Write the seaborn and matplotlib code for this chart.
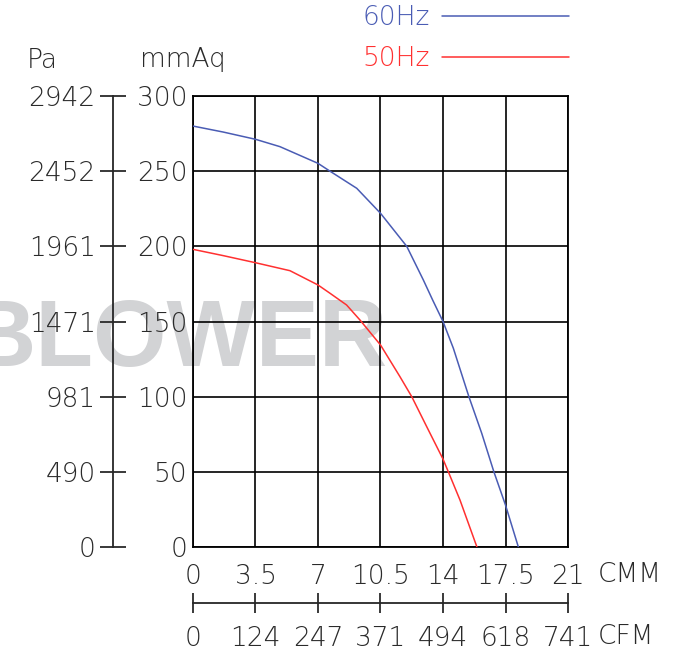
import numpy as np
import pandas as pd
import matplotlib
matplotlib.use("Agg")
import matplotlib.pyplot as plt
import seaborn as sns

sns.set_style("white")
plt.rcParams['font.family'] = ['DejaVu Sans']
plt.rcParams['font.weight'] = 'light'

# values (CMM, mmAq)
cmm_60 = [0, 1.7, 3.5, 4.87, 7, 7.67, 9.17, 10.5, 11.97, 12.9, 13.42, 14, 14.58, 15.45, 16.17, 16.85, 17.5, 18.22]
mmaq_60 = [280, 276, 271.2, 266.3, 255.2, 250, 238.6, 222, 200, 177.6, 164.3, 150, 132.2, 100, 75.6, 50, 27.9, 0]
cmm_50 = [0, 1.7, 3.5, 5.43, 7, 7.67, 8.6, 9.35, 10.5, 11.59, 12.25, 13.09, 14, 14.3, 14.95, 15.9]
mmaq_50 = [198, 193.8, 189.1, 183.8, 174.3, 168.8, 161, 151, 134.4, 113.3, 100, 80, 58.5, 50, 31.3, 0]

cmm_ticks = [0, 3.5, 7, 10.5, 14, 17.5, 21]
cmm_labels = ['0', '3.5', '7', '10.5', '14', '17.5', '21']
cfm_labels = ['0', '124', '247', '371', '494', '618', '741']
mmaq_ticks = [0, 50, 100, 150, 200, 250, 300]
pa_labels = ['0', '490', '981', '1471', '1961', '2452', '2942']

df = pd.concat([
    pd.DataFrame({'CMM': cmm_60, 'mmAq': mmaq_60, 'freq': '60Hz'}),
    pd.DataFrame({'CMM': cmm_50, 'mmAq': mmaq_50, 'freq': '50Hz'}),
])
colors = {'60Hz': '#4a5cb4', '50Hz': '#ff3030'}
fs = 19
tc = '#2a2a2a'

fig = plt.figure(figsize=(6.8, 6.53), dpi=100)
ax = fig.add_axes([0.2838, 0.1623, 0.5515, 0.6907])
ax.set_facecolor('none')

# watermark behind everything
fig.text(388 / 680, 1 - 366 / 653, 'BLOWER', fontsize=68, fontweight='bold', color='#d2d3d5',
         family='Liberation Sans', ha='right', va='baseline', zorder=-5)

sns.lineplot(data=df, x='CMM', y='mmAq', hue='freq', hue_order=['60Hz', '50Hz'],
             palette=colors, linewidth=1.1, ax=ax, zorder=3)

ax.set_xlim(0, 21)
ax.set_ylim(0, 300)
ax.set_xticks(cmm_ticks)
ax.set_xticklabels(cmm_labels)
ax.set_yticks(mmaq_ticks)
ax.set_yticklabels([str(t) for t in mmaq_ticks])
ax.grid(True, color='black', linewidth=1.2)
for s in ax.spines.values():
    s.set_color('black')
    s.set_linewidth(1.3)
ax.tick_params(axis='both', length=0, labelsize=fs, colors=tc)
ax.tick_params(axis='y', pad=4)
ax.tick_params(axis='x', pad=12)
ax.set_xlabel('')
ax.set_ylabel('')

# Pa axis
pa = ax.secondary_yaxis(-0.2133)
pa.set_yticks(mmaq_ticks)
pa.set_yticklabels(pa_labels)
pa.spines['left'].set_linewidth(1.3)
pa.tick_params(direction='inout', length=19, width=1.3, pad=3, labelsize=fs, colors=tc)

# CFM axis
cfm = ax.secondary_xaxis(-0.1242)
cfm.set_xticks(cmm_ticks)
cfm.set_xticklabels(cfm_labels)
cfm.spines['bottom'].set_linewidth(1.3)
cfm.tick_params(direction='inout', length=15, width=1.3, pad=9, labelsize=fs, colors=tc)

fig.text(27 / 680, 1 - 60 / 653, 'Pa', fontsize=fs, ha='left', va='center', color=tc)
fig.text(140 / 680, 1 - 60 / 653, 'mmAq', fontsize=fs, ha='left', va='center', color=tc)
fig.text(598 / 680, 1 - 574 / 653, 'CMM', fontsize=fs, ha='left', va='center', color=tc)
fig.text(598 / 680, 1 - 636 / 653, 'CFM', fontsize=fs, ha='left', va='center', color=tc)

leg = ax.legend(markerfirst=False, frameon=False, fontsize=fs, handlelength=4.8,
                handletextpad=0.45, labelspacing=0.6, labelcolor='linecolor',
                loc='upper right', bbox_to_anchor=(570 / 680, 1 - 4 / 653),
                bbox_transform=fig.transFigure, borderaxespad=0, borderpad=0.05)

fig.savefig('out.png', dpi=100)
